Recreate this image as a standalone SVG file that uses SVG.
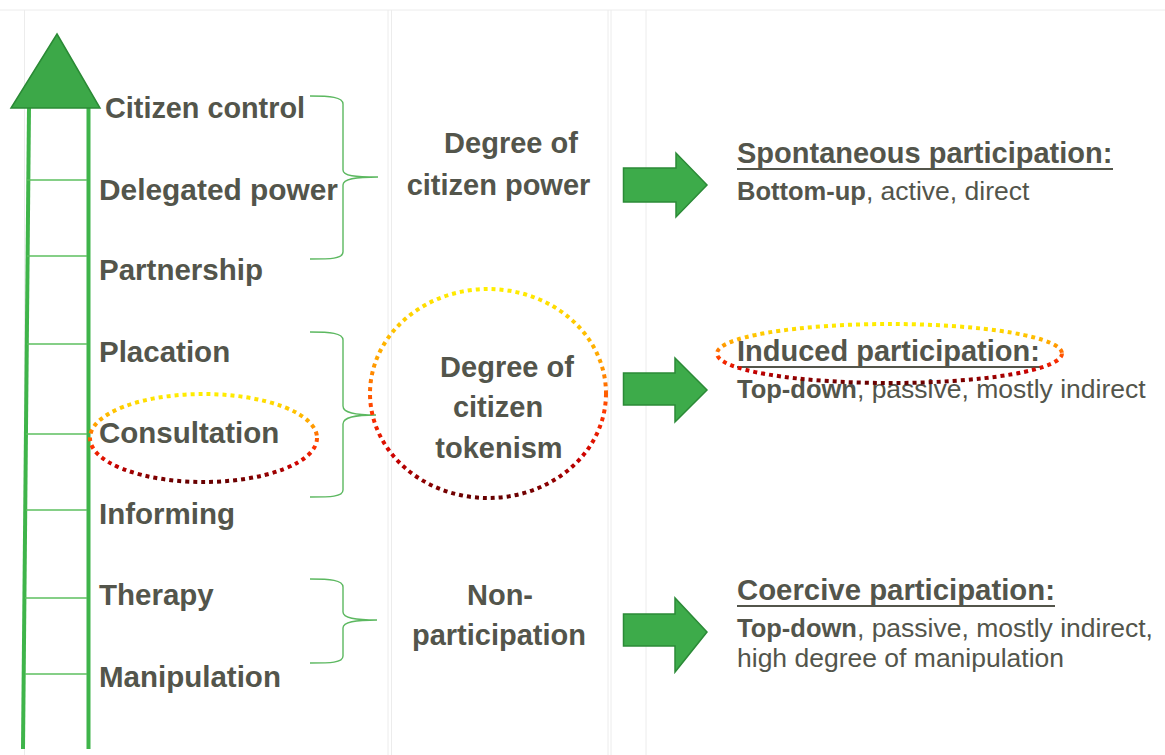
<svg xmlns="http://www.w3.org/2000/svg" width="1165" height="755" viewBox="0 0 1165 755">
<style>
.grid{stroke:#ececec;stroke-width:1;fill:none}
.rail{stroke:#3fb44a;stroke-width:4;fill:none}
.rung{stroke:#5cbf5f;stroke-width:1.5;fill:none}
.brace{stroke:#5cb860;stroke-width:1.4;fill:none}
.lbl{font-family:"Liberation Sans",Arial,sans-serif;font-weight:bold;font-size:29.5px;fill:#53554b}
.mid{font-family:"Liberation Sans",Arial,sans-serif;font-weight:bold;font-size:29px;fill:#53554b;text-anchor:middle}
.hd{font-family:"Liberation Sans",Arial,sans-serif;font-weight:bold;font-size:29px;fill:#53554b}
.sub{font-family:"Liberation Sans",Arial,sans-serif;font-size:26.5px;fill:#53554b}
.b{font-weight:bold;font-size:25.5px}
.ul{stroke:#53554b;stroke-width:2}
.arrow{fill:#3dab4a;stroke:#2b8a37;stroke-width:1.5}
.dots{fill:none;stroke-width:4;stroke-dasharray:4 4}
</style>
<defs>
<linearGradient id="fire" x1="0" y1="0" x2="0" y2="1">
<stop offset="0" stop-color="#ffee00"/>
<stop offset="0.35" stop-color="#ffa000"/>
<stop offset="0.6" stop-color="#ff3300"/>
<stop offset="0.8" stop-color="#cc0000"/>
<stop offset="1" stop-color="#660000"/>
</linearGradient>
</defs>
<rect width="1165" height="755" fill="#ffffff"/>
<g id="grid">
<line class="grid" x1="0" y1="10" x2="1165" y2="10"/>
<line class="grid" x1="24.5" y1="10" x2="24.5" y2="755"/>
<line class="grid" x1="388" y1="10" x2="388" y2="755"/>
<line class="grid" x1="391.5" y1="10" x2="391.5" y2="755"/>
<line class="grid" x1="608" y1="10" x2="608" y2="755"/>
<line class="grid" x1="611" y1="10" x2="611" y2="755"/>
<line class="grid" x1="646" y1="10" x2="646" y2="755"/>
</g>
<g id="ladder">
<line class="rail" x1="29" y1="108" x2="23" y2="749"/>
<line class="rail" x1="88.5" y1="108" x2="88.5" y2="749"/>
<line class="rung" x1="27" y1="180" x2="87" y2="180"/>
<line class="rung" x1="27" y1="256" x2="87" y2="256"/>
<line class="rung" x1="27" y1="344" x2="87" y2="344"/>
<line class="rung" x1="26" y1="434" x2="87" y2="434"/>
<line class="rung" x1="26" y1="510" x2="87" y2="510"/>
<line class="rung" x1="25" y1="598" x2="87" y2="598"/>
<line class="rung" x1="25" y1="674" x2="87" y2="674"/>
<polygon points="57,34 100,108 11,108" fill="#3ca848" stroke="#2a8a35" stroke-width="1.5"/>
</g>
<g id="rungs-labels">
<text class="lbl" x="105" y="118" textLength="200" lengthAdjust="spacingAndGlyphs">Citizen control</text>
<text class="lbl" x="99" y="200" textLength="239" lengthAdjust="spacingAndGlyphs">Delegated power</text>
<text class="lbl" x="99" y="280">Partnership</text>
<text class="lbl" x="99" y="362">Placation</text>
<text class="lbl" x="99" y="443">Consultation</text>
<text class="lbl" x="99" y="524">Informing</text>
<text class="lbl" x="99" y="605">Therapy</text>
<text class="lbl" x="99" y="687">Manipulation</text>
</g>
<g id="connectors">
<path class="brace" d="M310,96 C330,96 343,97 343,104 L343,170 C343,176 355,177 378,177 C355,177 343,179 343,185 L343,252 C343,259 330,259 310,259"/>
<path class="brace" d="M310,332 C330,332 343,333 343,340 L343,406 C343,413 355,415 376,415 C355,415 343,417 343,424 L343,490 C343,497 330,497 310,497"/>
<path class="brace" d="M310,579 C330,579 343,580 343,587 L343,612 C343,618 355,620 377,620 C355,620 343,622 343,628 L343,656 C343,663 330,663 310,663"/>
<polygon class="arrow" points="623.5,168 676,168 676,153 707,185 676,217 676,202 623.5,202"/>
<polygon class="arrow" points="623.5,373 675,373 675,358 707,390 675,422 675,405 623.5,405"/>
<polygon class="arrow" points="623.5,614 675,614 675,598 707,632 675,672 675,646 623.5,646"/>
</g>
<g id="citizen-power">
<text class="mid" x="511" y="153">Degree of</text>
<text class="mid" x="498.5" y="195">citizen power</text>
</g>
<g id="tokenism">
<ellipse class="dots" cx="488" cy="393.5" rx="118" ry="104.5" stroke="url(#fire)"/>
<text class="mid" x="507" y="377">Degree of</text>
<text class="mid" x="498" y="417">citizen</text>
<text class="mid" x="499" y="458">tokenism</text>
</g>
<g id="non-participation">
<text class="mid" x="500" y="605">Non-</text>
<text class="mid" x="499" y="645">participation</text>
</g>
<g id="consultation-highlight">
<ellipse class="dots" cx="203.5" cy="438" rx="113.5" ry="44" stroke="url(#fire)"/>
</g>
<g id="spontaneous">
<text class="hd" x="737" y="163">Spontaneous participation:</text>
<line class="ul" x1="737" y1="169" x2="1113" y2="169"/>
<text class="sub" x="737" y="200"><tspan class="b">Bottom-up</tspan>, active, direct</text>
</g>
<g id="induced">
<text class="hd" x="737" y="361">Induced participation:</text>
<line class="ul" x1="737" y1="367" x2="1042" y2="367"/>
<text class="sub" x="737" y="398"><tspan class="b">Top-down</tspan>, passive, mostly indirect</text>
<ellipse class="dots" cx="889.5" cy="353.5" rx="172.5" ry="29.5" stroke="url(#fire)"/>
</g>
<g id="coercive">
<text class="hd" x="737" y="600" textLength="318" lengthAdjust="spacingAndGlyphs">Coercive participation:</text>
<line class="ul" x1="737" y1="606" x2="1055" y2="606"/>
<text class="sub" x="737" y="637"><tspan class="b">Top-down</tspan>, passive, mostly indirect,</text>
<text class="sub" x="737" y="667">high degree of manipulation</text>
</g>
</svg>
